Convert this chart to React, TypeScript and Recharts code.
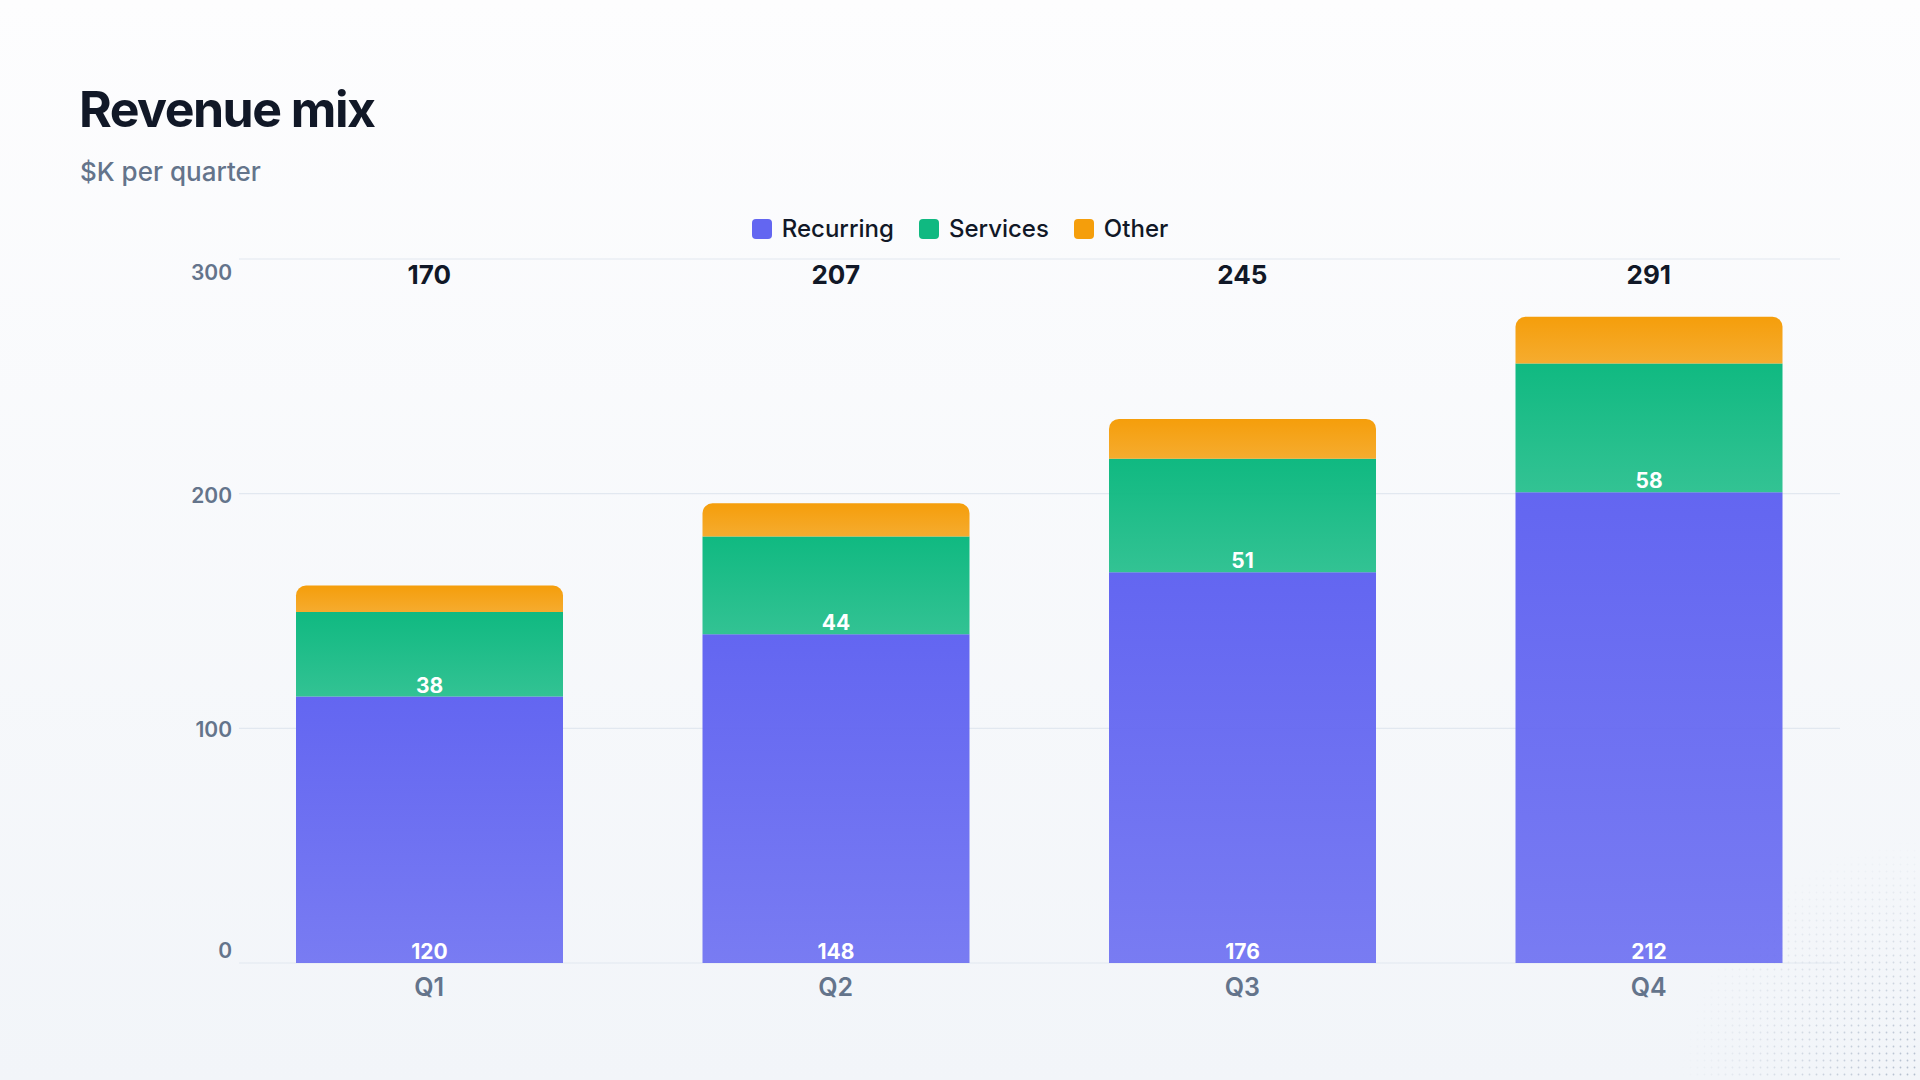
import React from 'react';
import { Bar, ComposedChart, CartesianGrid, LabelList, Legend, Line, XAxis, YAxis } from 'recharts';

const quarters = ['Q1', 'Q2', 'Q3', 'Q4'];
const recurring = [120, 148, 176, 212];
const services = [38, 44, 51, 58];
const other = [12, 15, 18, 21];
const yTicks = [0, 100, 200, 300];

const series = [
  { key: 'recurring', name: 'Recurring', color: '#6366f1' },
  { key: 'services', name: 'Services', color: '#10b981' },
  { key: 'other', name: 'Other', color: '#f59e0b' },
];

const data = quarters.map((q, i) => ({
  quarter: q,
  recurring: recurring[i],
  services: services[i],
  other: other[i],
  total: recurring[i] + services[i] + other[i],
}));

const FONT = 'Inter, "Noto Sans", sans-serif';
const INK = '#111827';
const MUTED = '#64748b';

function LegendContent() {
  return (
    <div style={{ display: 'flex', justifyContent: 'center', alignItems: 'center', gap: 25, height: 30 }}>
      {series.map((s) => (
        <div key={s.key} style={{ display: 'flex', alignItems: 'center', gap: 10 }}>
          <span style={{ width: 20, height: 20, borderRadius: 4, background: s.color, display: 'inline-block' }} />
          <span style={{ fontSize: 24, fontWeight: 500, color: INK, lineHeight: '30px' }}>{s.name}</span>
        </div>
      ))}
    </div>
  );
}

// first / last tick labels sit inside the plot, the rest are centred on their line
function YTick(props: any) {
  const { x, y, payload } = props;
  const v = payload?.value;
  const top = yTicks[yTicks.length - 1];
  const dy = v === top ? 21 : v === 0 ? -5 : 9;
  return (
    <text x={x} y={Number(y) + dy} textAnchor="end" fill={MUTED} fontSize={21} fontWeight={600}>
      {v}
    </text>
  );
}

function TotalTick({ x, y, index }: any) {
  return (
    <text x={x} y={y + 25} textAnchor="middle" fill={INK} fontSize={26} fontWeight={700}>
      {data[index]?.total}
    </text>
  );
}

export default function App() {
  const pad = { left: -13, right: -12 };
  return (
    <div
      style={{
        position: 'absolute',
        top: 0,
        left: 0,
        width: 1920,
        height: 1080,
        overflow: 'hidden',
        fontFamily: FONT,
        background: 'linear-gradient(180deg, #fdfdfe 0%, #f2f5f9 100%)',
      }}
    >
      <svg width={1920} height={1080} style={{ position: 'absolute', top: 0, left: 0 }}>
        <defs>
          <pattern id="dots" width={7} height={7} patternUnits="userSpaceOnUse">
            <circle cx={3.5} cy={3.5} r={0.9} fill="#94a3b8" />
          </pattern>
          <radialGradient id="dotFade" cx={1920} cy={1080} r={240} gradientUnits="userSpaceOnUse">
            <stop offset="0%" stopColor="#fff" stopOpacity={0.7} />
            <stop offset="100%" stopColor="#fff" stopOpacity={0} />
          </radialGradient>
          <mask id="dotMask">
            <rect x={0} y={0} width={1920} height={1080} fill="url(#dotFade)" />
          </mask>
        </defs>
        <rect x={1600} y={780} width={320} height={300} fill="url(#dots)" mask="url(#dotMask)" />
      </svg>

      <div
        style={{
          position: 'absolute',
          left: 79,
          top: 84,
          fontSize: 50,
          lineHeight: 1,
          fontWeight: 700,
          letterSpacing: '-0.03em',
          color: INK,
        }}
      >
        Revenue mix
      </div>
      <div
        style={{
          position: 'absolute',
          left: 80,
          top: 159,
          fontSize: 26,
          lineHeight: 1,
          fontWeight: 500,
          color: MUTED,
        }}
      >
        $K per quarter
      </div>

      <div style={{ position: 'absolute', top: 0, left: 0 }}>
        <ComposedChart
          width={1920}
          height={1080}
          data={data}
          margin={{ top: 258, right: 80, bottom: 77, left: 179 }}
          style={{ fontFamily: FONT }}
        >
          <defs>
            {series.map((s) => (
              <linearGradient key={s.key} id={`grad-${s.key}`} x1="0" y1="0" x2="0" y2="1">
                <stop offset="0%" stopColor={s.color} stopOpacity={1} />
                <stop offset="100%" stopColor={s.color} stopOpacity={0.85} />
              </linearGradient>
            ))}
          </defs>
          <CartesianGrid vertical={false} yAxisId="grid" xAxisId="bottom" stroke="#e2e8f0" strokeWidth={1.2} />
          <XAxis
            xAxisId="bottom"
            dataKey="quarter"
            axisLine={false}
            tickLine={false}
            tickSize={0}
            tickMargin={15}
            height={40}
            padding={pad}
            tick={{ fill: MUTED, fontSize: 25, fontWeight: 600 }}
          />
          <XAxis
            xAxisId="top"
            dataKey="quarter"
            orientation="top"
            axisLine={false}
            tickLine={false}
            tickSize={0}
            tickMargin={0}
            height={1}
            padding={pad}
            tick={<TotalTick />}
          />
          <YAxis
            yAxisId="grid"
            orientation="left"
            type="number"
            domain={[0, 300]}
            ticks={yTicks}
            interval={0}
            axisLine={false}
            tickLine={false}
            tickSize={0}
            tickMargin={7}
            width={60}
            tick={(p: any) => <YTick {...p} />}
          />
          <YAxis yAxisId="bars" orientation="right" width={0} domain={[0, 317]} hide />
          <Legend
            verticalAlign="middle"
            align="center"
            content={<LegendContent />}
            wrapperStyle={{ top: 214, left: 0, width: 1920, height: 30 }}
          />
          {series.map((s, i) => (
            <Bar
              key={s.key}
              dataKey={s.key}
              name={s.name}
              stackId="rev"
              xAxisId="bottom"
              yAxisId="bars"
              barSize={267}
              fill={`url(#grad-${s.key})`}
              radius={i === series.length - 1 ? [10, 10, 0, 0] : [0, 0, 0, 0]}
              isAnimationActive={false}
            >
              {i < series.length - 1 ? (
                <LabelList
                  dataKey={s.key}
                  position="insideBottom"
                  offset={4}
                  fill="#ffffff"
                  fontSize={21}
                  fontWeight={700}
                />
              ) : null}
            </Bar>
          ))}
          <Line
            dataKey="total"
            xAxisId="bottom"
            yAxisId="grid"
            stroke="none"
            dot={false}
            activeDot={false}
            legendType="none"
            isAnimationActive={false}
          />
        </ComposedChart>
      </div>
    </div>
  );
}
